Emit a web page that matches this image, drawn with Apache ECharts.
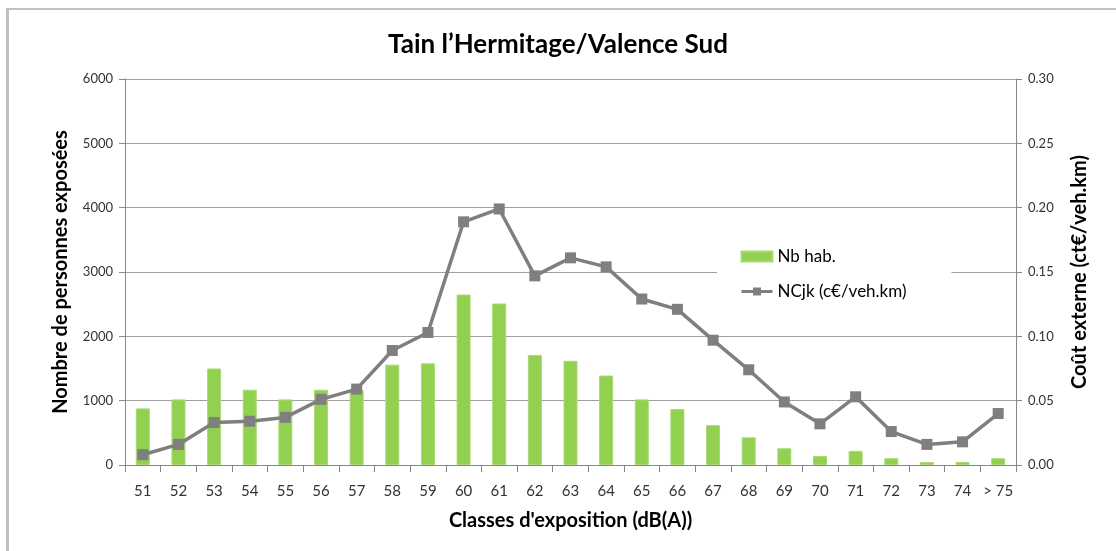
<!DOCTYPE html>
<html>
<head>
<meta charset="utf-8">
<script src="https://cdn.jsdelivr.net/npm/echarts@6/dist/echarts.min.js"></script>
<style>
  html, body { margin: 0; padding: 0; background: #fff; }
  #chart { width: 1116px; height: 551px; }
</style>
</head>
<body>
<div id="chart"></div>
<script>
// Exposure classes in dB(A)
const categories = ['51','52','53','54','55','56','57','58','59','60','61','62',
  '63','64','65','66','67','68','69','70','71','72','73','74','> 75'];
// Number of exposed inhabitants per class
const nbHab = [880, 1020, 1500, 1170, 1020, 1170, 1170, 1560, 1580, 2650, 2510, 1710,
  1620, 1390, 1020, 870, 620, 430, 260, 140, 220, 105, 47, 47, 105];
// External noise cost per class (c€/veh.km)
const ncjk = [0.008, 0.016, 0.033, 0.034, 0.037, 0.051, 0.059, 0.089, 0.103, 0.189, 0.199, 0.147,
  0.161, 0.154, 0.129, 0.121, 0.097, 0.074, 0.049, 0.032, 0.053, 0.026, 0.016, 0.018, 0.040];
const leftTicks = [0, 6000, 1000];
const rightTicks = [0, 0.30, 0.05];

const FONT = 'Lato, "Open Sans", sans-serif';
const chart = echarts.init(document.getElementById('chart'), null, { renderer: 'canvas' });

chart.setOption({
  backgroundColor: '#ffffff',
  animation: false,
  textStyle: { fontFamily: FONT },
  title: {
    text: 'Tain l\u2019Hermitage/Valence Sud',
    left: 'center',
    top: 27,
    textStyle: { fontFamily: FONT, fontSize: 26, fontWeight: 'bold', color: '#000' }
  },
  graphic: [
    { type: 'rect', shape: { x: 6, y: 8, width: 1110, height: 2 }, style: { fill: '#c0c0c0' } },
    { type: 'rect', shape: { x: 6, y: 8, width: 3, height: 543 }, style: { fill: '#c0c0c0' } }
  ],
  legend: {
    orient: 'vertical',
    left: 717,
    top: 243,
    backgroundColor: '#ffffff',
    padding: [5, 45, 5, 23],
    itemGap: 18,
    itemWidth: 31,
    itemHeight: 10,
    textStyle: { fontFamily: FONT, fontSize: 17, color: '#000' },
    data: [
      { name: 'Nb hab.', icon: 'rect' },
      { name: 'NCjk (c\u20ac/veh.km)', lineStyle: { width: 3 } }
    ]
  },
  grid: { left: 125, right: 100, top: 79, bottom: 86 },
  xAxis: {
    type: 'category',
    data: categories,
    name: 'Classes d\'exposition (dB(A))',
    nameLocation: 'middle',
    nameGap: 46,
    nameTextStyle: { fontFamily: FONT, fontSize: 20, fontWeight: 'bold', color: '#000' },
    axisLine: { lineStyle: { color: '#888', width: 1 } },
    axisTick: { show: true, length: 7, interval: 0, lineStyle: { color: '#888' } },
    axisLabel: { margin: 19, interval: 0, fontSize: 15, color: '#333', fontFamily: FONT }
  },
  yAxis: [
    {
      type: 'value',
      min: leftTicks[0], max: leftTicks[1], interval: leftTicks[2],
      name: 'Nombre de personnes expos\u00e9es',
      nameLocation: 'middle',
      nameRotate: 90,
      nameGap: 54,
      nameTextStyle: { fontFamily: FONT, fontSize: 20, fontWeight: 'bold', color: '#000' },
      axisLine: { show: true, lineStyle: { color: '#888' } },
      axisTick: { show: true, length: 6, lineStyle: { color: '#888' } },
      axisLabel: { margin: 12, fontSize: 13, color: '#333', fontFamily: FONT,
        formatter: v => String(v) },
      splitLine: { show: true, lineStyle: { color: '#a0a0a0', width: 1 } }
    },
    {
      type: 'value',
      min: rightTicks[0], max: rightTicks[1], interval: rightTicks[2],
      name: 'Co\u00fbt externe (ct\u20ac/veh.km)',
      nameLocation: 'middle',
      nameRotate: 90,
      nameGap: 54,
      nameTextStyle: { fontFamily: FONT, fontSize: 20, fontWeight: 'bold', color: '#000' },
      axisLine: { show: true, lineStyle: { color: '#888' } },
      axisTick: { show: true, length: 6, lineStyle: { color: '#888' } },
      axisLabel: { margin: 12, fontSize: 13, color: '#333', fontFamily: FONT,
        formatter: v => v.toFixed(2) },
      splitLine: { show: false }
    }
  ],
  series: [
    {
      name: 'Nb hab.',
      type: 'bar',
      yAxisIndex: 0,
      data: nbHab,
      barWidth: 14,
      itemStyle: { color: '#92d050', borderColor: '#a8da74', borderWidth: 1 }
    },
    {
      name: 'NCjk (c\u20ac/veh.km)',
      type: 'line',
      yAxisIndex: 1,
      data: ncjk,
      symbol: 'rect',
      symbolSize: 11,
      lineStyle: { color: '#7f7f7f', width: 3.5 },
      itemStyle: { color: '#7f7f7f' }
    }
  ]
});
</script>
</body>
</html>
